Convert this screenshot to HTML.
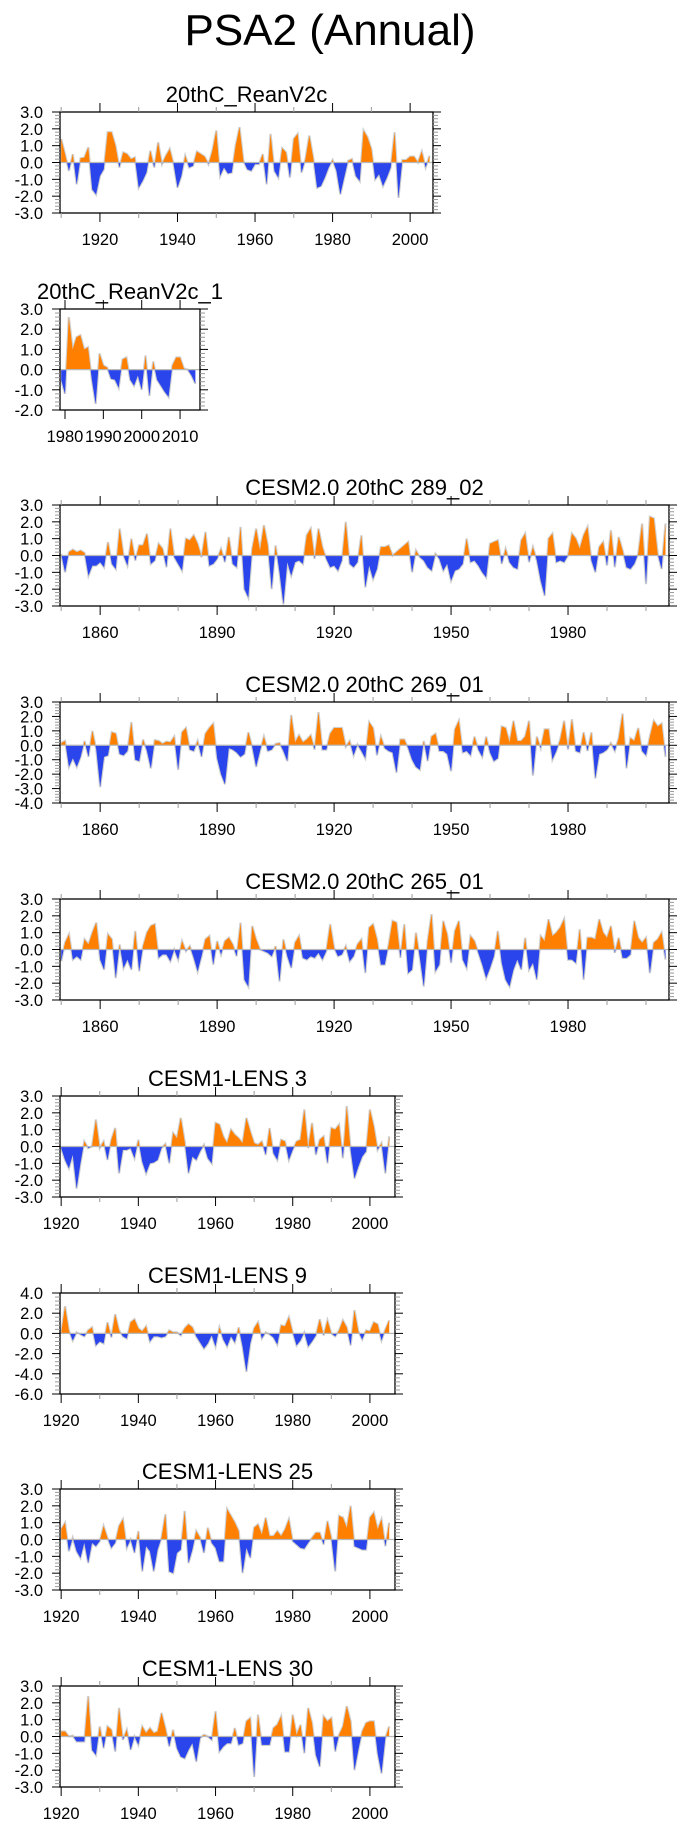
<!DOCTYPE html>
<html><head><meta charset="utf-8"><title>PSA2 (Annual)</title>
<style>
html,body{margin:0;padding:0;background:#fff;}
svg{display:block;font-family:"Liberation Sans",Arial,sans-serif;}
</style></head>
<body>
<svg id="chart" width="690" height="1828" viewBox="0 0 690 1828" xmlns="http://www.w3.org/2000/svg">
<text x="330" y="45" font-size="44" text-anchor="middle" fill="#000">PSA2 (Annual)</text>
</svg>
<script>
// ---- data ----
const p1Start = 1910;
const p1Values = [1.4,0.5,-0.5,0.5,-1.3,0.25,0.3,0.9,-1.6,-1.9,-0.8,-0.4,1.8,1.8,1.0,-0.3,0.6,0.5,0.2,0.3,-1.5,-1.1,-0.6,0.7,-0.3,1.2,-0.1,0.4,0.8,-0.1,-1.5,-0.8,0.4,-0.3,-0.2,0.65,0.5,0.35,-0.1,0.7,1.9,-0.8,-0.3,-0.65,-0.6,1.0,2.1,0.1,-0.4,-0.5,-0.1,-0.1,0.5,-1.3,1.7,-0.5,-0.9,0.85,0.6,-0.9,1.4,1.7,-0.6,0.2,1.6,0.3,-1.5,-1.4,-0.9,-0.3,0.15,-0.5,-1.9,-0.9,0.1,0.2,-0.8,-1.1,1.9,1.5,0.8,-1.0,-0.7,-1.4,-0.9,-0.3,1.8,-2.1,0.15,0.15,0.35,0.35,0.0,0.65,-0.3,0.4];
const p2Start = 1979;
const p2Values = [-0.5,-1.2,2.6,1.0,1.6,1.7,1.0,1.1,-0.5,-1.7,0.8,0.2,0.1,-0.45,-0.5,-0.9,0.5,0.6,-0.5,-0.8,-0.3,-1.0,0.7,-1.3,0.4,-0.5,-0.8,-1.1,-1.35,0.2,0.6,0.6,0.05,0.0,-0.3,-0.7];
const p3Start = 1850;
const p3Values = [0.1,-1.0,0.2,0.35,0.2,0.3,0.15,-1.2,-0.6,-0.6,-0.4,-0.7,0.8,-0.5,-0.8,1.6,0.0,-0.6,1.0,-0.3,0.6,0.6,1.3,-0.5,-0.3,0.7,0.4,-0.7,1.6,-0.1,-0.5,-0.9,1.0,0.9,1.2,0.7,-0.1,1.4,-0.6,-0.5,-0.2,0.4,-0.4,1.1,-0.5,-0.7,1.7,-2.0,-2.5,0.4,1.6,0.3,1.8,0.6,-2.0,0.6,-1.0,-2.9,-0.4,-1.2,-0.4,-0.3,-0.5,1.2,1.6,-0.2,1.6,0.5,-0.2,-0.7,-0.6,-0.9,-0.3,2.0,-0.5,-0.7,-0.4,1.2,-1.9,-0.6,-1.4,-0.8,0.5,0.5,0.6,0.0,0.2,0.4,0.6,0.8,-1.0,0.3,-0.1,-0.3,-0.7,-0.9,0.1,-0.2,-0.9,-0.5,-1.5,-0.9,-0.8,-0.5,1.0,-0.4,-0.3,-0.6,-1.0,-1.3,0.7,0.8,0.9,-0.5,0.4,-0.4,-0.7,-0.8,0.9,1.3,-0.4,0.5,-0.3,-1.5,-2.4,1.0,1.3,-0.4,-0.3,-0.4,0.0,1.3,1.0,0.4,1.2,1.7,-0.3,-1.0,0.5,0.8,-0.6,1.5,-0.7,1.1,0.3,-0.7,-0.8,-0.5,0.1,1.9,-1.7,2.3,2.2,0.1,-0.8,1.9];
const p4Start = 1850;
const p4Values = [0.15,0.3,-1.5,-0.9,-1.5,-0.8,0.3,-0.8,1.0,-0.3,-2.9,-0.8,-0.7,0.9,0.8,-0.6,-0.7,-0.4,1.6,-1.0,-1.1,0.4,-0.4,-1.6,0.35,0.3,0.1,0.25,0.2,0.6,-1.7,0.9,1.2,-0.3,-0.4,0.3,-0.8,0.8,1.2,1.5,-0.9,-2.0,-2.7,-0.2,-0.3,-0.5,-0.8,-0.6,0.9,-0.1,-1.5,-0.4,0.6,-0.4,-0.3,0.1,0.15,-0.4,-1.1,2.1,0.2,0.7,0.2,0.4,0.7,-0.3,2.3,-0.3,-0.3,0.8,1.2,1.2,1.2,-0.1,0.3,-0.7,0.05,-0.4,-0.9,1.6,1.2,-0.7,0.6,-0.2,-0.4,-0.5,-1.9,0.4,0.4,-0.2,-1.0,-1.5,-1.7,0.3,-1.1,0.6,0.8,-0.4,-0.4,-0.6,-1.8,1.1,1.7,-0.5,-0.4,-0.7,0.6,-0.3,-0.8,0.6,-0.5,-1.1,-0.9,1.3,1.2,0.2,1.7,0.3,0.3,0.6,1.7,-2.1,0.6,-0.2,1.1,1.1,-1.0,-0.4,0.4,1.7,-0.3,1.8,-0.4,-0.5,0.9,-0.4,0.9,-2.3,-0.6,-0.5,-0.3,0.15,-0.4,0.5,2.2,-1.6,0.5,0.3,1.2,-0.4,-0.7,0.6,1.7,1.3,1.5,-0.8];
const p5Start = 1850;
const p5Values = [-0.7,0.4,0.9,-0.6,-0.4,-0.6,0.6,0.3,1.0,1.6,-0.6,-1.2,0.9,0.6,-1.7,0.3,-1.1,-0.6,-1.2,1.1,-1.3,0.2,1.0,1.4,1.5,-0.5,-0.3,-0.3,-0.7,0.0,-0.6,0.5,-0.1,0.2,-0.5,-1.3,-0.4,0.6,0.8,-0.9,0.5,-0.3,0.5,0.7,0.3,-0.4,1.6,-1.8,-2.2,1.4,0.6,0.0,-0.1,-0.2,-0.4,0.2,-1.9,0.6,-0.4,-1.1,0.4,0.8,-0.5,-0.6,-0.4,-0.5,-0.2,-0.6,-0.1,1.5,0.1,-0.4,-0.3,0.2,-0.7,-0.4,0.3,0.6,-1.4,1.3,1.5,0.6,-0.9,-0.9,0.3,1.7,1.6,-0.5,1.5,-1.4,-1.2,1.0,-0.5,-2.2,0.5,2.1,-1.3,-0.9,1.7,0.9,-0.8,1.1,1.7,-0.6,-1.1,0.8,0.5,-0.2,-0.9,-1.7,-1.1,-0.4,1.1,-0.8,-1.8,-2.2,-1.2,-0.6,-1.2,0.7,-1.2,-0.8,-1.8,0.8,0.5,1.8,0.8,1.0,1.3,1.8,-0.6,-0.6,-0.8,1.2,-1.8,0.7,0.7,0.6,1.8,1.0,0.7,1.4,-0.2,0.7,-0.5,-0.5,-0.3,1.7,0.7,0.4,0.7,-1.4,0.4,0.6,1.0,-0.6];
const p6Start = 1920;
const p6Values = [-0.1,-0.8,-1.3,-0.5,-2.5,-1.0,0.3,-0.1,0.0,1.6,-0.1,0.3,-0.8,0.4,1.1,-1.6,-0.2,-0.2,-0.1,-0.7,0.4,-0.9,-1.6,-1.0,-0.95,-0.8,-0.1,0.15,-1.0,0.8,0.5,1.7,0.3,-1.6,-0.6,-0.8,-0.3,0.1,-0.7,-1.0,1.4,1.3,0.6,0.2,1.0,0.7,0.5,0.2,1.7,0.9,0.2,0.1,0.3,-0.5,1.1,-0.4,-0.8,0.4,0.3,-0.8,-0.2,0.3,0.4,2.2,-0.1,1.4,-0.5,0.4,0.6,-1.0,1.1,1.0,1.3,-0.7,2.4,-0.2,-1.9,-1.2,-0.6,-0.3,2.2,1.2,-0.2,0.2,-1.6,0.6];
const p7Start = 1920;
const p7Values = [0.0,2.7,0.3,-0.7,0.1,-0.1,-0.3,0.3,0.6,-1.2,-0.8,-1.0,1.1,-0.4,1.9,0.3,-0.3,-0.5,1.1,1.4,0.5,0.2,0.7,-0.8,-0.3,-0.3,-0.4,-0.3,0.3,0.1,0.1,-0.2,0.5,0.9,0.6,-0.3,-0.9,-1.5,-1.0,-0.2,-1.3,0.6,-0.6,-1.3,-0.3,-0.9,0.6,-1.3,-3.8,-1.0,0.5,1.1,-0.5,0.1,-0.1,-0.4,-1.1,0.8,0.7,1.6,0.1,-1.2,-0.7,0.1,-1.3,-0.8,-0.2,1.4,-0.2,1.3,0.0,-0.3,0.3,1.3,0.6,-1.2,2.3,0.2,-0.6,0.3,0.2,1.1,0.9,-0.7,0.4,1.3];
const p8Start = 1920;
const p8Values = [0.6,1.0,-0.7,0.1,-0.7,-1.1,-0.2,-1.4,-0.2,-0.4,-0.1,0.8,0.1,-0.5,-0.2,0.8,1.2,-0.5,0.0,-0.8,0.5,-1.9,-0.4,-0.7,-1.9,-0.6,0.1,1.5,-1.9,-2.0,-0.8,-0.6,1.7,-1.4,-0.6,0.5,0.1,-0.8,0.7,-0.2,-0.5,-1.3,-1.3,1.8,1.4,1.0,0.5,-2.0,-0.5,-1.1,0.7,0.9,0.3,1.3,0.2,0.2,0.5,0.2,0.6,1.2,-0.1,-0.3,-0.5,-0.55,-0.2,0.1,0.4,0.4,-0.3,1.1,0.1,-1.9,1.4,1.3,0.7,2.0,-0.4,-0.5,-0.6,-0.6,1.3,1.6,0.6,1.2,-0.4,1.0];
const p9Start = 1920;
const p9Values = [0.3,0.3,0.0,0.05,-0.3,-0.3,-0.3,2.4,-0.8,-1.1,0.6,-0.7,0.6,0.4,-0.9,1.7,-0.2,0.4,-0.8,0.0,-0.5,0.6,0.2,0.5,0.2,0.3,1.4,0.5,-0.6,0.4,-0.7,-1.2,-1.3,-0.8,-0.4,-1.5,-0.1,0.1,0.0,-0.2,1.5,-0.9,-0.6,-0.4,-0.4,0.5,-0.5,-0.4,0.9,1.1,-2.4,1.3,-0.5,-0.5,-0.5,0.5,0.7,1.2,-0.9,-0.9,1.3,0.1,0.7,-1.0,1.7,0.8,-1.1,-1.8,1.2,0.9,1.1,-0.9,0.1,0.6,1.8,0.9,-2.0,-0.8,0.3,0.8,0.9,0.9,-1.0,-2.2,-0.1,0.6];
// tick label values
const yTicks3 = [-3,-2,-1,0,1,2,3];
const yTicks2 = [-2,-1,0,1,2,3];
const yTicks4 = [-4,-3,-2,-1,0,1,2,3];
const yTicks6 = [-6,-4,-2,0,2,4];
const xTicksA = [1920,1940,1960,1980,2000];
const xTicksB = [1980,1990,2000,2010];
const xTicksC = [1860,1890,1920,1950,1980];
const titles = ["20thC_ReanV2c","20thC_ReanV2c_1","CESM2.0 20thC 289_02","CESM2.0 20thC 269_01","CESM2.0 20thC 265_01","CESM1-LENS 3","CESM1-LENS 9","CESM1-LENS 25","CESM1-LENS 30"];

const NS = "http://www.w3.org/2000/svg";
const svg = document.getElementById("chart");
function el(tag, attrs, parent){
  const e = document.createElementNS(NS, tag);
  for (const k in attrs) e.setAttribute(k, attrs[k]);
  (parent||svg).appendChild(e);
  return e;
}
let clipId = 0;
function drawPanel(idx, cfg, start, values, yTicks, xTicks, xMinorStep, yMinorStep){
  const g = el("g", {});
  
  
  const L = cfg.left, R = cfg.right, T = cfg.top, H = 101, B = T + H;
  const y0 = yTicks[0], y1 = yTicks[yTicks.length-1];
  const xs = v => L + (v - cfg.x0) / (cfg.x1 - cfg.x0) * (R - L);
  const ys = v => T + (y1 - v) / (y1 - y0) * H;
  // title
  const t = el("text", {x:(L+R)/2, y:T-10, "font-size":22, "text-anchor":"middle", fill:"#000"}, g);
  t.textContent = titles[idx];
  
  
  // area
  const zy = ys(0);
  let d = "M" + xs(start).toFixed(2) + "," + zy.toFixed(2);
  let line = "";
  values.forEach((v,i)=>{
    const px = xs(start+i).toFixed(2), py = ys(v).toFixed(2);
    d += " L" + px + "," + py;
    line += (i? " L":"M") + px + "," + py;
  });
  d += " L" + xs(start+values.length-1).toFixed(2) + "," + zy.toFixed(2) + " Z";
  const defs = el("defs", {}, g);
  const ca = "ca"+(clipId++), cb = "cb"+(clipId++);
  const c1 = el("clipPath", {id:ca}, defs); el("rect",{x:L,y:T,width:R-L,height:zy-T},c1);
  const c2 = el("clipPath", {id:cb}, defs); el("rect",{x:L,y:zy,width:R-L,height:B-zy},c2);
  const outline = el("path", {d:line, fill:"none", stroke:"#cfcfcf", "stroke-width":2.2}, g);
  
  
  const pos = el("path", {d:d, fill:"#ff8000", "clip-path":"url(#"+ca+")"}, g);
  
  
  const neg = el("path", {d:d, fill:"#2b45ec", "clip-path":"url(#"+cb+")"}, g);
  
  
  const zl = el("line", {x1:L, x2:R, y1:zy, y2:zy, stroke:"#b8b8b8", "stroke-width":1.2}, g);
  
  
  // frame
  const fr = el("rect", {x:L, y:T, width:R-L, height:H, fill:"none", stroke:"#000", "stroke-width":1.3}, g);
  
  
  // y ticks
  for (let v = y0; v <= y1 + 1e-9; v += yMinorStep){
    const isMaj = yTicks.some(m => Math.abs(m - v) < 1e-6);
    const yy = ys(v), len = isMaj ? 8 : 5, col = isMaj ? "#000" : "#999";
    el("line",{x1:L-len,x2:L,y1:yy,y2:yy,stroke:col,"stroke-width":1},g);
    el("line",{x1:R,x2:R+len,y1:yy,y2:yy,stroke:col,"stroke-width":1},g);
  }
  yTicks.forEach(v=>{
    const tx = el("text",{x:L-17,y:ys(v)+6,"font-size":16.5,"text-anchor":"end",fill:"#000"},g);
    tx.textContent = v.toFixed(1);
    
    
  });
  // x ticks
  const first = Math.ceil(cfg.x0 / xMinorStep) * xMinorStep;
  for (let yr = first; yr <= cfg.x1; yr += xMinorStep){
    const isMaj = xTicks.includes(yr);
    const xx = xs(yr), len = isMaj ? 9 : 5, col = isMaj ? "#000" : "#999";
    el("line",{x1:xx,x2:xx,y1:T-len,y2:T,stroke:col,"stroke-width":1},g);
    el("line",{x1:xx,x2:xx,y1:B,y2:B+len,stroke:col,"stroke-width":1},g);
  }
  xTicks.forEach(v=>{
    const tx = el("text",{x:xs(v),y:B+32,"font-size":16.5,"text-anchor":"middle",fill:"#000"},g);
    tx.textContent = String(v);
    
    
  });
}
const tops = [112,309,505,702,899,1096,1293,1489,1686];
drawPanel(0,{left:60,right:433,top:tops[0],x0:1909.7,x1:2005.9},p1Start,p1Values,yTicks3,xTicksA,10,0.2);
drawPanel(1,{left:60,right:200,top:tops[1],x0:1978.7,x1:2015.2},p2Start,p2Values,yTicks2,xTicksB,10,0.2);
drawPanel(2,{left:60,right:669,top:tops[2],x0:1849.7,x1:2005.9},p3Start,p3Values,yTicks3,xTicksC,10,0.2);
drawPanel(3,{left:60,right:669,top:tops[3],x0:1849.7,x1:2005.9},p4Start,p4Values,yTicks4,xTicksC,10,0.2);
drawPanel(4,{left:60,right:669,top:tops[4],x0:1849.7,x1:2005.9},p5Start,p5Values,yTicks3,xTicksC,10,0.2);
drawPanel(5,{left:60,right:395,top:tops[5],x0:1919.7,x1:2006.5},p6Start,p6Values,yTicks3,xTicksA,10,0.2);
drawPanel(6,{left:60,right:395,top:tops[6],x0:1919.7,x1:2006.5},p7Start,p7Values,yTicks6,xTicksA,10,0.4);
drawPanel(7,{left:60,right:395,top:tops[7],x0:1919.7,x1:2006.5},p8Start,p8Values,yTicks3,xTicksA,10,0.2);
drawPanel(8,{left:60,right:395,top:tops[8],x0:1919.7,x1:2006.5},p9Start,p9Values,yTicks3,xTicksA,10,0.2);
</script>
</body></html>
